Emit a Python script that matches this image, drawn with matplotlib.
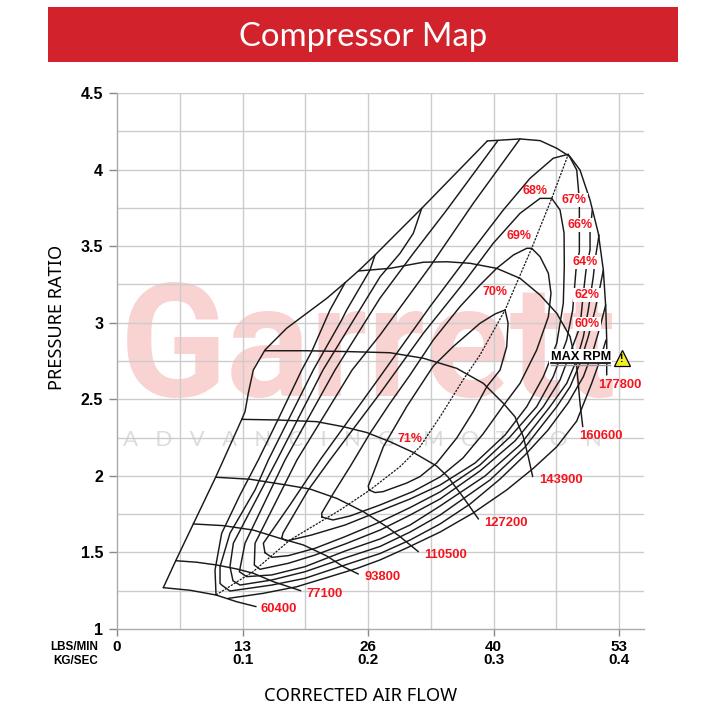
import matplotlib
matplotlib.use('Agg')
import matplotlib.pyplot as plt
from matplotlib.patches import Rectangle

# Curvas de velocidad (kg/s, relacion de presion)
surge_x = [.0369, .0468, .0608, .0786, .0994, .1020, .1046, .1086, .1179, .1352, .1671, .1817, .1923, .2056, .2175, .2428, .2951]
surge_y = [1.270, 1.446, 1.686, 1.991, 2.369, 2.419, 2.539, 2.691, 2.822, 2.964, 3.159, 3.261, 3.338, 3.442, 3.540, 3.747, 4.187]

s60400_x = [.0369, .0582, .0789, .0954, .1108]
s60400_y = [1.270, 1.253, 1.222, 1.178, 1.146]
s77100_x = [.0468, .0635, .0794, .0954, .1086, .1245, .1464]
s77100_y = [1.446, 1.436, 1.418, 1.392, 1.364, 1.309, 1.250]
s93800_x = [.0608, .0847, .1086, .1299, .1484, .1671, .1803, .1923]
s93800_y = [1.686, 1.675, 1.646, 1.592, 1.549, 1.477, 1.407, 1.359]
s110500_x = [.0786, .1060, .1352, .1538, .1751, .1963, .2149, .2255, .2401]
s110500_y = [1.991, 1.978, 1.940, 1.914, 1.853, 1.766, 1.668, 1.603, 1.505]
s127200_x = [.0994, .1273, .1591, .1803, .1990, .2175, .2361, .2547, .2637, .2757, .2880]
s127200_y = [2.369, 2.365, 2.354, 2.321, 2.283, 2.223, 2.153, 2.064, 1.993, 1.862, 1.718]
s143900_x = [.1179, .1512, .1857, .2175, .2441, .2707, .2919, .3078, .3171, .3237, .3277, .3312]
s143900_y = [2.817, 2.817, 2.811, 2.804, 2.768, 2.702, 2.604, 2.474, 2.386, 2.256, 2.125, 1.995]
s160600_x = [.1923, .2175, .2441, .2627, .2813, .3025, .3211, .3371, .3504, .3610, .3663, .3689, .3711]
s160600_y = [3.338, 3.355, 3.395, 3.398, 3.388, 3.355, 3.290, 3.181, 3.061, 2.909, 2.713, 2.476, 2.321]
s177800_x = [.2951, .3211, .3371, .3504, .3610, .3689, .3769, .3835, .3875, .3894, .3902, .3902]
s177800_y = [4.187, 4.200, 4.189, 4.139, 4.084, 3.997, 3.801, 3.584, 3.344, 3.105, 2.887, 2.659]

# Linea punteada del pico de eficiencia
ridge_x = [.0789, .1084, .1378, .1777, .2016, .2255, .2414, .2574, .2757, .2892, .3092, .3304, .3464, .3596]
ridge_y = [1.222, 1.374, 1.581, 1.777, 1.908, 2.060, 2.190, 2.386, 2.626, 2.789, 3.083, 3.486, 3.812, 4.100]

# Islas de eficiencia
eff71_x = [.2008, .2002, .2042, .2122, .2308, .2520, .2677, .2892, .3012, .3092, .3116, .3105, .3052, .2946, .2837, .2707, .2547, .2414, .2308, .2120, .2056, .2008]
eff71_y = [1.908, 1.934, 2.017, 2.190, 2.452, 2.717, 2.843, 2.996, 3.057, 3.083, 2.998, 2.843, 2.691, 2.582, 2.417, 2.247, 2.084, 1.995, 1.953, 1.897, 1.891, 1.908]
eff70_x = [.1633, .1631, .1724, .1857, .2016, .2175, .2335, .2520, .2733, .2892, .3025, .3158, .3265, .3304, .3371, .3437, .3458, .3437, .3344, .3211, .3076, .2916, .2757, .2574, .2359, .2096, .1857, .1721, .1633]
eff70_y = [1.731, 1.756, 1.886, 2.060, 2.278, 2.474, 2.659, 2.887, 3.105, 3.246, 3.355, 3.442, 3.486, 3.486, 3.431, 3.323, 3.192, 3.039, 2.822, 2.604, 2.456, 2.273, 2.117, 1.993, 1.898, 1.810, 1.738, 1.712, 1.731]
eff69_x = [.1312, .1323, .1524, .1697, .2096, .2441, .2759, .2998, .3211, .3371, .3464, .3530, .3562, .3564, .3556, .3504, .3397, .3265, .3092, .2853, .2574, .2335, .2096, .1817, .1551, .1352, .1312]
eff69_y = [1.592, 1.627, 1.908, 2.104, 2.539, 2.931, 3.257, 3.519, 3.714, 3.812, 3.812, 3.736, 3.586, 3.366, 3.127, 2.866, 2.648, 2.452, 2.267, 2.084, 1.940, 1.849, 1.771, 1.679, 1.614, 1.575, 1.592]
eff68_x = [.1179, .1166, .1378, .1618, .2096, .2494, .2813, .3078, .3291, .3476, .3596, .3663, .3684, .3684, .3657, .3631, .3583, .3476, .3344, .3131, .2892, .2574, .2335, .2096, .1817, .1578, .1365, .1233, .1179]
eff68_y = [1.498, 1.560, 1.810, 2.104, 2.648, 3.105, 3.453, 3.736, 3.943, 4.074, 4.100, 3.997, 3.801, 3.464, 3.344, 3.083, 2.887, 2.648, 2.452, 2.254, 2.071, 1.895, 1.793, 1.699, 1.603, 1.527, 1.479, 1.468, 1.498]
eff67_x = [.3787, .3769, .3769, .3737, .3716, .3689, .3610, .3530, .3397, .3171, .2892, .2574, .2335, .2096, .1817, .1578, .1365, .1139, .1094, .1100, .1434, .1873, .2096, .2494, .2839, .3211]
eff67_y = [3.736, 3.584, 3.475, 3.344, 3.192, 2.974, 2.800, 2.626, 2.452, 2.228, 2.032, 1.849, 1.744, 1.646, 1.555, 1.483, 1.429, 1.390, 1.418, 1.560, 2.104, 2.691, 2.920, 3.366, 3.780, 4.200]
eff66_x = [.3841, .3809, .3795, .3755, .3716, .3663, .3583, .3450, .3211, .2932, .2574, .2335, .2096, .1817, .1498, .1233, .1033, .0975, .1020, .1339, .1737, .2096, .2361, .2627, .3033]
eff66_y = [3.573, 3.410, 3.300, 3.083, 2.909, 2.757, 2.604, 2.452, 2.202, 1.999, 1.803, 1.679, 1.588, 1.509, 1.407, 1.353, 1.342, 1.374, 1.560, 2.104, 2.691, 3.161, 3.453, 3.736, 4.187]
eff64_x = [.3875, .3849, .3809, .3755, .3689, .3610, .3504, .3251, .2972, .2574, .2335, .2096, .1817, .1498, .1233, .0980, .0924, .0900, .0927, .1275, .1641, .2096, .2255, .2361, .2428]
eff64_y = [3.344, 3.235, 3.083, 2.909, 2.735, 2.582, 2.452, 2.188, 1.973, 1.744, 1.633, 1.539, 1.464, 1.374, 1.320, 1.287, 1.315, 1.407, 1.560, 2.104, 2.691, 3.300, 3.453, 3.584, 3.747]
eff62_x = [.2056, .2016, .1830, .1790, .1564, .1206, .1100, .0900, .0821, .0821, .0834, .0900, .1233, .1498, .1817, .2096, .2335, .2574, .2813, .3052, .3251, .3434, .3594, .3716, .3795, .3849, .3894]
eff62_y = [3.442, 3.344, 3.083, 3.018, 2.691, 2.104, 1.908, 1.625, 1.407, 1.298, 1.287, 1.248, 1.287, 1.331, 1.418, 1.493, 1.581, 1.686, 1.816, 1.979, 2.136, 2.299, 2.476, 2.648, 2.822, 2.974, 3.116]
eff60_up_x = [.1817, .1697, .1551, .1472, .1285, .1126, .0980, .0834, .0781, .0789]
eff60_up_y = [3.261, 3.083, 2.811, 2.691, 2.371, 2.104, 1.875, 1.625, 1.385, 1.222]
eff60_low_x = [.0887, .1166, .1432, .1697, .1920, .2096, .2308, .2574, .2837, .3105, .3317, .3504, .3663, .3782, .3849, .3896]
eff60_low_y = [1.200, 1.233, 1.276, 1.342, 1.398, 1.451, 1.529, 1.633, 1.757, 1.908, 2.049, 2.190, 2.358, 2.604, 2.757, 2.887]

speed_curves = [(s60400_x, s60400_y), (s77100_x, s77100_y), (s93800_x, s93800_y), (s110500_x, s110500_y),
                (s127200_x, s127200_y), (s143900_x, s143900_y), (s160600_x, s160600_y), (s177800_x, s177800_y)]
eff_curves = [(eff71_x, eff71_y), (eff70_x, eff70_y), (eff69_x, eff69_y), (eff68_x, eff68_y), (eff67_x, eff67_y),
              (eff66_x, eff66_y), (eff64_x, eff64_y), (eff62_x, eff62_y), (eff60_up_x, eff60_up_y), (eff60_low_x, eff60_low_y)]

# Etiquetas
speed_labels = ['60400', '77100', '93800', '110500', '127200', '143900', '160600', '177800']
speed_lx = [.1291, .1653, .2112, .2614, .3100, .3538, .3857, .4008]
speed_ly = [1.129, 1.229, 1.338, 1.483, 1.694, 1.973, 2.262, 2.593]
eff_labels = ['71%', '70%', '69%', '68%', '67%', '66%', '64%', '62%', '60%']
eff_lx = [.2335, .3012, .3203, .3331, .3641, .3689, .3729, .3745, .3745]
eff_ly = [2.240, 3.200, 3.566, 3.860, 3.801, 3.638, 3.396, 3.181, 2.992]

x_ticks = [0, .1, .2, .3, .4]
x_labels = ['0\n ', '13\n0.1', '26\n0.2', '40\n0.3', '53\n0.4']
y_ticks = [1, 1.5, 2, 2.5, 3, 3.5, 4, 4.5]
y_labels = ['1', '1.5', '2', '2.5', '3', '3.5', '4', '4.5']
x_grid = [.05, .1, .15, .2, .25, .3, .35, .4]
y_grid = [1.25, 1.5, 1.75, 2, 2.25, 2.5, 2.75, 3, 3.25, 3.5, 3.75, 4, 4.25, 4.5]

arial = ['Liberation Sans', 'DejaVu Sans']

fig = plt.figure(figsize=(7.2, 7.2), dpi=100)
ax = fig.add_axes([117 / 720, 91 / 720, 527 / 720, 536 / 720])
ax.set_xlim(0, .4199)
ax.set_ylim(1, 4.5)

# Marca de agua
ax.text(.0024, 2.52, 'Garrett', color='#f9d2d2', fontsize=113, family='Roboto', fontweight='bold', zorder=0)
ax.text(.1952, 2.234, 'A   D   V   A   N   C   I   N   G     M   O   T   I   O   N', color='#dcdcdc', fontsize=16, family='Lato',
        ha='center', va='center', zorder=0)

ax.vlines(x_grid, 1, 4.5, color='#cccccc', lw=1.0, zorder=1)
ax.hlines(y_grid, 0, .4199, color='#cccccc', lw=1.0, zorder=1)

line = dict(color='#1a1a1a', lw=1.05, solid_joinstyle='round', solid_capstyle='round', zorder=3)
ax.plot(surge_x, surge_y, **line)
for cx, cy in speed_curves + eff_curves:
    ax.plot(cx, cy, **line)
ax.plot(ridge_x, ridge_y, color='#1a1a1a', lw=.9, dashes=(1.8, 1.0), zorder=3)

for lbl, lx, ly in zip(speed_labels, speed_lx, speed_ly):
    ax.text(lx, ly, lbl, color='#f5141e', fontsize=9.4, fontweight='bold', family=arial, ha='center', va='center', zorder=5)
for lbl, lx, ly in zip(eff_labels, eff_lx, eff_ly):
    box = None
    if lbl in ['67%', '66%', '64%', '62%', '60%']:
        box = dict(facecolor='white', edgecolor='none', pad=.8)
    ax.text(lx, ly, lbl, color='#f5141e', fontsize=9, fontweight='bold', family=arial, ha='center', va='center',
            zorder=5, bbox=box)

# MAX RPM
ax.text(.3695, 2.778, 'MAX RPM', color='black', fontsize=9.2, fontweight='bold', family=arial, ha='center', va='center',
        zorder=5, bbox=dict(facecolor='white', edgecolor='none', pad=1))
ax.plot([.3458, .3928], [2.737, 2.737], color='black', lw=1.2, zorder=6)
ax.plot([.3458, .3928], [2.724, 2.724], color='#999999', lw=1.0, zorder=6)
ax.plot([.4020], [2.770], marker='^', ms=11.5, mfc='#f4ee2a', mec='black', mew=.9, ls='none', zorder=6)
ax.text(.4020, 2.760, '!', color='black', fontsize=7.5, fontweight='bold', family=arial, ha='center', va='center', zorder=7)

# Ejes
for side in ['top', 'right']:
    ax.spines[side].set_visible(False)
for side in ['left', 'bottom']:
    ax.spines[side].set_color('#aaaaaa')
    ax.spines[side].set_linewidth(1.0)
ax.set_xticks(x_ticks)
ax.set_xticklabels(x_labels, family=arial, fontweight='bold', fontsize=11, linespacing=.92)
ax.set_yticks(y_ticks)
ax.set_yticklabels(y_labels, family=arial, fontweight='bold', fontsize=11.5)
ax.tick_params(axis='x', length=5, width=1, color='#888888', pad=3)
ax.tick_params(axis='y', length=6, width=1, color='#888888', pad=4)

fig.text(361 / 720, 1 - 696 / 720, 'CORRECTED AIR FLOW', family='Noto Sans', fontsize=13.2, color='black', ha='center', va='center')
fig.text(57 / 720, 1 - 317 / 720, 'PRESSURE RATIO', family='Noto Sans', fontsize=13.1, color='black', rotation=90, ha='center', va='center')
fig.text(98 / 720, 1 - 654 / 720, 'LBS/MIN\nKG/SEC', family=arial, fontweight='bold', fontsize=8.4, ha='right', va='center', linespacing=1.15)

# Banner del titulo
fig.add_artist(Rectangle((48 / 720, 1 - 62 / 720), 630 / 720, 55 / 720, transform=fig.transFigure, facecolor='#d2222b', edgecolor='none'))
fig.text(363 / 720, 1 - 37 / 720, 'Compressor Map', family='Lato', fontsize=23.7, color='white', ha='center', va='center')

plt.savefig('out.png', dpi=100)
plt.close()
